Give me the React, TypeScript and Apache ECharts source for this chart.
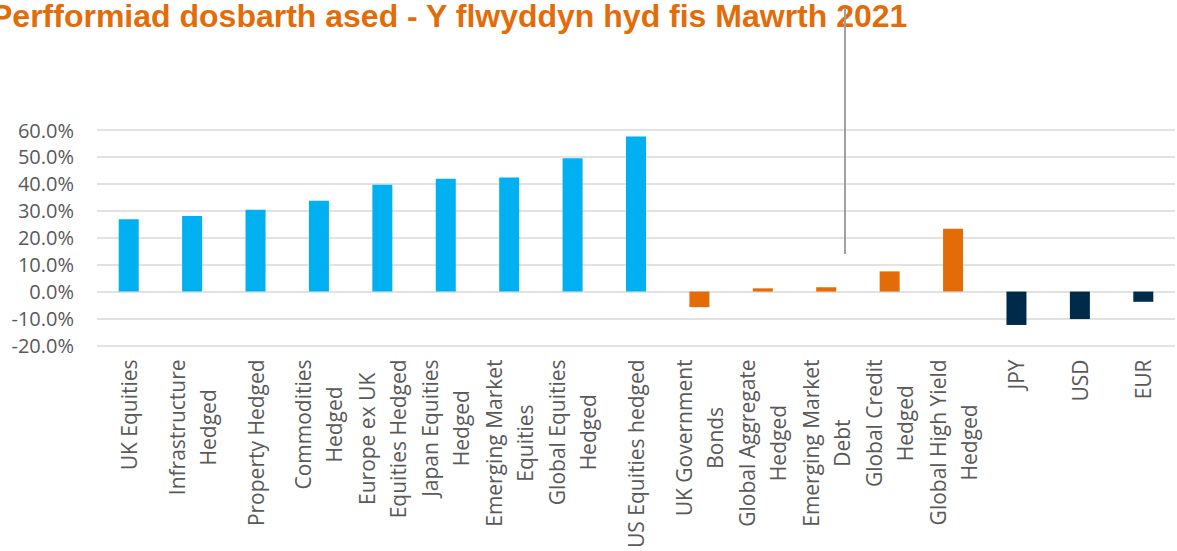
import React, { useEffect, useRef } from "react";
import * as echarts from "echarts";

const titleText = "Perfformiad dosbarth ased - Y flwyddyn hyd fis Mawrth 2021";

const categories: string[] = [
  "UK Equities",
  "Infrastructure\nHedged",
  "Property Hedged",
  "Commodities\nHedged",
  "Europe ex UK\nEquities Hedged",
  "Japan Equities\nHedged",
  "Emerging Market\nEquities",
  "Global Equities\nHedged",
  "US Equities hedged",
  "UK Government\nBonds",
  "Global Aggregate\nHedged",
  "Emerging Market\nDebt",
  "Global Credit\nHedged",
  "Global High Yield\nHedged",
  "JPY",
  "USD",
  "EUR",
];

const values: number[] = [
  26.9, 28.1, 30.4, 33.7, 39.7, 41.9, 42.4, 49.5, 57.6,
  -5.8, 1.2, 1.6, 7.5, 23.3,
  -12.4, -10.2, -3.8,
];

const groups: string[] = [
  "equity", "equity", "equity", "equity", "equity", "equity", "equity", "equity", "equity",
  "bond", "bond", "bond", "bond", "bond",
  "currency", "currency", "currency",
];

const groupColors: Record<string, string> = {
  equity: "#00B0F0",
  bond: "#E36C09",
  currency: "#002A4A",
};

const yMin = -20;
const yMax = 60;
const yInterval = 10;

export default function App() {
  const ref = useRef<HTMLDivElement>(null);

  useEffect(() => {
    if (!ref.current) return;
    const chart = echarts.init(ref.current, undefined, { renderer: "svg" });
    const labelColor = "#595959";
    chart.setOption({
      animation: false,
      backgroundColor: "#FFFFFF",
      title: {
        text: titleText,
        left: -9,
        top: 0,
        padding: 0,
        textStyle: {
          color: "#E36C09",
          fontSize: 32,
          fontWeight: "bold",
          fontFamily: "Liberation Sans, Arial, sans-serif",
        },
      },
      graphic: [
        {
          type: "line",
          z: 100,
          shape: { x1: 845, y1: 8, x2: 845, y2: 254 },
          style: { stroke: "#A0A0A0", lineWidth: 2 },
        },
      ],
      grid: { left: 97, right: 2, top: 130, bottom: 203, containLabel: false },
      xAxis: {
        type: "category",
        data: categories,
        axisLine: { show: false, onZero: false },
        axisTick: { show: false },
        splitLine: { show: false },
        axisLabel: {
          interval: 0,
          rotate: 90,
          margin: 14,
          hideOverlap: false,
          formatter: (v: string) =>
            v
              .split("\n")
              .map((l) => `{c|${l}}`)
              .join("\n"),
          rich: {
            c: {
              align: "center",
              fontSize: 21,
              lineHeight: 31,
              fontFamily: "Open Sans, sans-serif",
              color: labelColor,
            },
          },
        },
      },
      yAxis: {
        type: "value",
        min: yMin,
        max: yMax,
        interval: yInterval,
        axisLine: { show: false },
        axisTick: { show: false },
        axisLabel: {
          formatter: (v: number) => v.toFixed(1) + "%",
          color: labelColor,
          fontSize: 20,
          fontFamily: "Open Sans, sans-serif",
          margin: 23,
        },
        splitLine: { lineStyle: { color: "#D9D9D9", width: 1.5 } },
      },
      series: [
        {
          type: "bar",
          barWidth: 20,
          data: values.map((v, i) => ({
            value: v,
            itemStyle: { color: groupColors[groups[i]] },
          })),
        },
      ],
    });
    return () => chart.dispose();
  }, []);

  return (
    <div
      ref={ref}
      style={{ position: "absolute", left: 0, top: 0, width: 1177, height: 551 }}
    />
  );
}
